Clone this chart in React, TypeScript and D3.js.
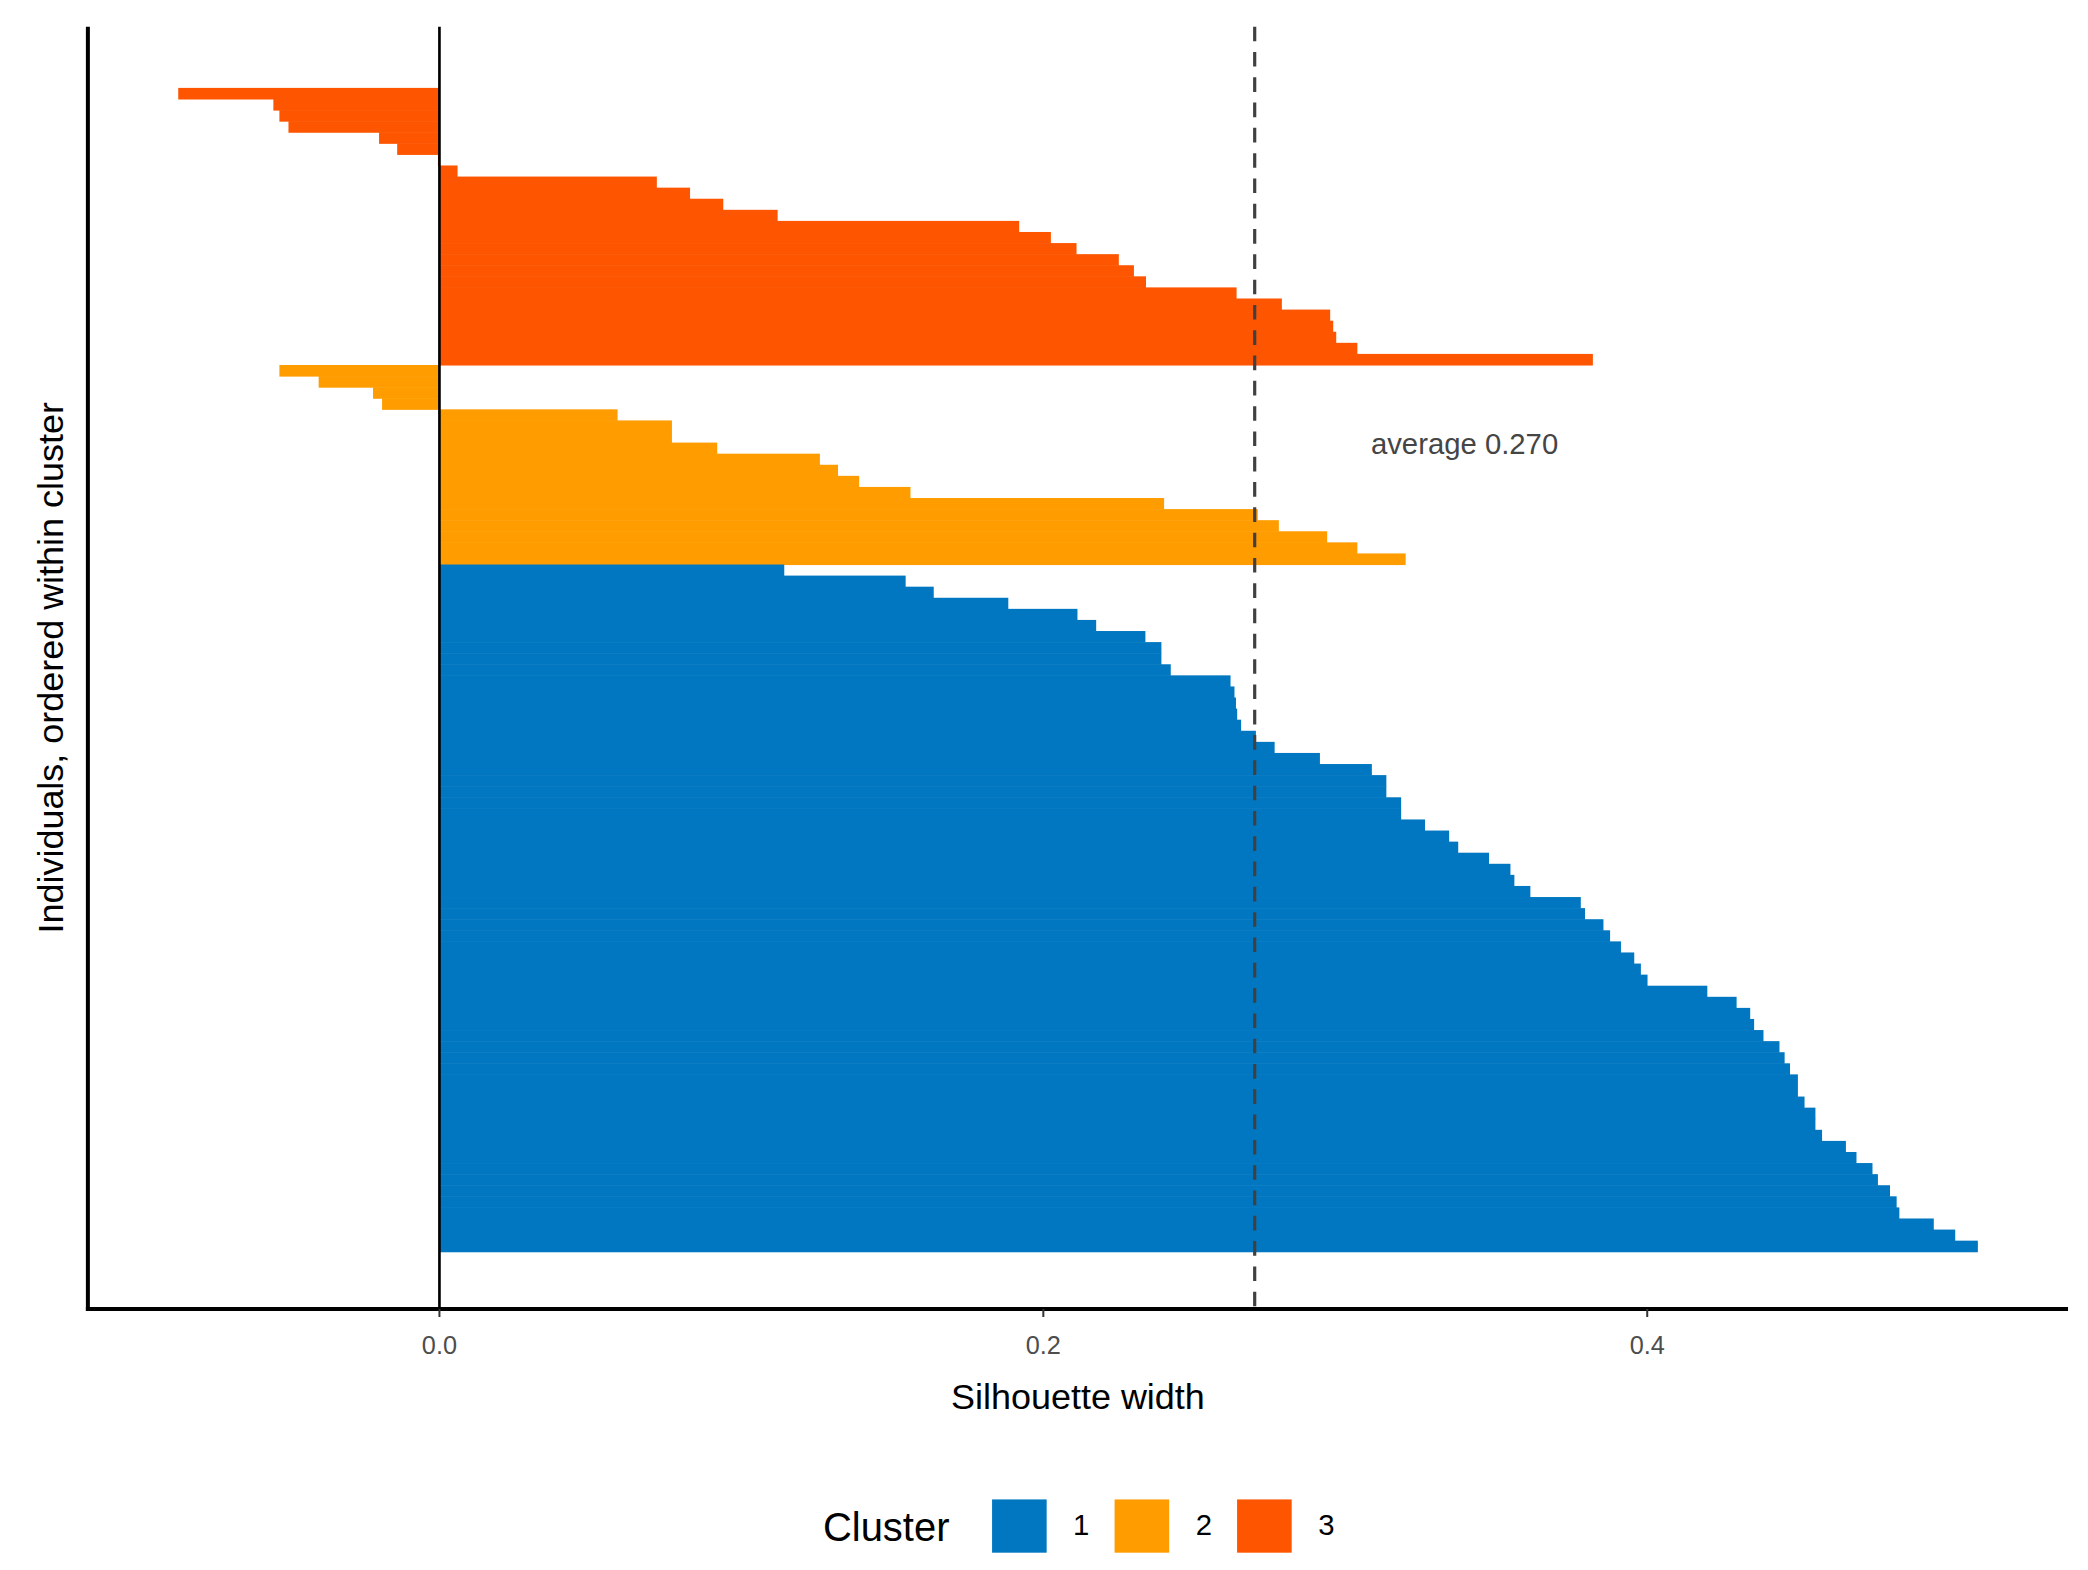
import * as d3 from 'd3';

// silhouette widths, top-to-bottom order within each cluster
const cluster3 = [-0.0865, -0.055, -0.053, -0.05, -0.02, -0.014, -0.0005, 0.006, 0.072, 0.083, 0.094, 0.112, 0.192, 0.2025, 0.211, 0.225, 0.23, 0.234, 0.264, 0.279, 0.295, 0.296, 0.297, 0.304, 0.382];
const cluster2 = [-0.053, -0.04, -0.022, -0.019, 0.059, 0.077, 0.077, 0.092, 0.126, 0.132, 0.139, 0.156, 0.24, 0.271, 0.278, 0.294, 0.304, 0.32];
const cluster1 = [0.1142, 0.1544, 0.1637, 0.1884, 0.2113, 0.2175, 0.2338, 0.2391, 0.2391, 0.2422, 0.262, 0.2633, 0.2638, 0.2642, 0.2655, 0.2704, 0.2766, 0.2916, 0.3088, 0.3136, 0.3136, 0.3185, 0.3185, 0.3264, 0.3344, 0.3374, 0.3476, 0.3547, 0.356, 0.3613, 0.378, 0.3794, 0.3855, 0.3877, 0.3913, 0.3957, 0.3979, 0.4001, 0.4199, 0.4296, 0.4341, 0.4354, 0.4385, 0.4438, 0.4455, 0.4473, 0.4499, 0.4499, 0.4521, 0.4557, 0.4557, 0.4579, 0.4658, 0.4693, 0.4746, 0.4764, 0.4804, 0.4826, 0.4835, 0.4949, 0.502, 0.5095];
const clusterNames = ['1', '2', '3'];
const clusterColors = ['#0077C0', '#FF9D00', '#FD5500'];
const xTicks = [0, 0.2, 0.4];
const average = 0.27;

const W = 1568;
const H = 1179;
const font = '"Liberation Sans", Arial, sans-serif';

export default function App() {
  const rows = [
    ...cluster3.map((v) => ({ v, c: 2 })),
    ...cluster2.map((v) => ({ v, c: 1 })),
    ...cluster1.map((v) => ({ v, c: 0 })),
  ].map((d, i) => ({ ...d, i }));

  const left = 66, right = 1553, top = 20, bottom = 983;
  const x = d3.scaleLinear().domain([0, 0.4]).range([330, 1237]);
  const y = d3.scaleBand<number>().domain(rows.map((r) => r.i)).range([66, 940]).padding(0);

  return (
    <svg
      width={2088}
      height={1570}
      viewBox={`0 0 ${W} ${H}`}
      style={{ position: 'absolute', left: 0, top: 0, background: '#fff' }}
      fontFamily={font}
    >
      <rect x={0} y={0} width={W} height={H} fill="#fff" />
      {rows.map((r) => (
        <rect
          key={r.i}
          x={Math.min(x(0), x(r.v))}
          y={y(r.i)}
          width={Math.abs(x(r.v) - x(0))}
          height={y.bandwidth() + 0.4}
          fill={clusterColors[r.c]}
        />
      ))}
      <line x1={x(0)} x2={x(0)} y1={top} y2={bottom} stroke="#000" strokeWidth={2} />
      <line x1={x(average)} x2={x(average)} y1={top} y2={bottom} stroke="#404040" strokeWidth={2.4} strokeDasharray="11,8" />
      <text x={x(0.3085)} y={341} fontSize={22} fill="#454545">average {average.toFixed(3)}</text>

      <line x1={left} x2={left} y1={top} y2={bottom + 1.5} stroke="#000" strokeWidth={3} />
      <line x1={left - 1.5} x2={right} y1={bottom} y2={bottom} stroke="#000" strokeWidth={3} />
      {xTicks.map((t) => (
        <g key={t}>
          <line x1={x(t)} x2={x(t)} y1={bottom} y2={bottom + 6} stroke="#333" strokeWidth={1.5} />
          <text x={x(t)} y={1017} textAnchor="middle" fontSize={19} fill="#4d4d4d">{t.toFixed(1)}</text>
        </g>
      ))}
      <text x={(left + right) / 2} y={1058} textAnchor="middle" fontSize={27} fill="#000">Silhouette width</text>
      <text transform={`translate(47,${(top + bottom) / 2}) rotate(-90)`} textAnchor="middle" fontSize={27} fill="#000">
        Individuals, ordered within cluster
      </text>

      <text x={618} y={1157} fontSize={30} fill="#000">Cluster</text>
      {clusterNames.map((n, i) => (
        <g key={n}>
          <rect x={745 + i * 92} y={1126} width={41} height={40} fill={clusterColors[i]} />
          <text x={812 + i * 92} y={1153} fontSize={22} textAnchor="middle" fill="#000">{n}</text>
        </g>
      ))}
    </svg>
  );
}
